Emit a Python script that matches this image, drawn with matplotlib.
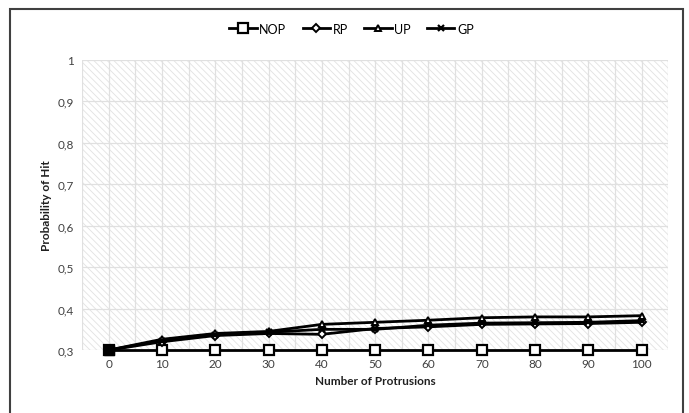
import numpy as np
import matplotlib
matplotlib.use("Agg")
import matplotlib.pyplot as plt
from matplotlib.patches import Rectangle
from matplotlib.ticker import FuncFormatter, MultipleLocator

plt.rcParams['font.family'] = ['Lato', 'DejaVu Sans']
plt.rcParams['hatch.linewidth'] = 0.6

# probability of hit vs number of protrusions
protrusions = [0, 10, 20, 30, 40, 50, 60, 70, 80, 90, 100]
nop = [0.300, 0.300, 0.300, 0.300, 0.300, 0.300, 0.300, 0.300, 0.300, 0.300, 0.300]
rp = [0.300, 0.320, 0.335, 0.340, 0.338, 0.352, 0.356, 0.362, 0.363, 0.364, 0.367]
up = [0.300, 0.326, 0.340, 0.345, 0.362, 0.367, 0.372, 0.378, 0.380, 0.380, 0.383]
gp = [0.300, 0.323, 0.337, 0.343, 0.350, 0.350, 0.360, 0.365, 0.366, 0.367, 0.371]
y_ticks = [0.3, 0.4, 0.5, 0.6, 0.7, 0.8, 0.9, 1.0]

fig = plt.figure(figsize=(6.89, 4.14), dpi=100)
ax = fig.add_axes([0.119, 0.152, 0.851, 0.701])

# outer chart frame
fig.patches.append(Rectangle((0.015, -0.01), 0.976, 0.985, transform=fig.transFigure,
                             fill=False, edgecolor='#404040', linewidth=1.5))

# hatched plot area
ax.add_patch(Rectangle((0, 0), 1, 1, transform=ax.transAxes, facecolor='white',
                       edgecolor='#e2e2e2', linewidth=0, hatch='\\\\\\\\\\', zorder=0))

ax.set_xlim(-5, 105)
ax.set_ylim(0.3, 1.0)
ax.set_xticks(protrusions)
ax.xaxis.set_minor_locator(MultipleLocator(5))
ax.set_yticks(y_ticks)
ax.yaxis.set_major_formatter(FuncFormatter(
    lambda v, p: '1' if abs(v - 1) < 1e-9 else ('%.1f' % v).replace('.', ',')))
ax.grid(True, which='both', axis='x', color='#e0e0e0', linewidth=0.9, zorder=1)
ax.grid(True, which='major', axis='y', color='#e0e0e0', linewidth=0.9, zorder=1)
ax.tick_params(which='both', length=0, labelsize=8.5, labelcolor='#404040', pad=6)
for s in ax.spines.values():
    s.set_visible(False)

common = dict(color='black', linewidth=2, zorder=3, clip_on=False)
ax.plot(protrusions, nop, marker='s', markersize=7, markerfacecolor='white',
        markeredgewidth=1.6, label='NOP', **common)
ax.plot(protrusions, rp, marker='D', markersize=4.5, markerfacecolor='white',
        markeredgewidth=1.4, label='RP', **common)
ax.plot(protrusions, up, marker='^', markersize=5, markerfacecolor='white',
        markeredgewidth=1.4, label='UP', **common)
ax.plot(protrusions, gp, marker='x', markersize=5, markeredgewidth=1.6,
        label='GP', **common)
ax.plot([0], [0.3], marker='s', markersize=7, color='black', zorder=5, clip_on=False)

ax.set_xlabel('Number of Protrusions', fontsize=8.5, fontweight='bold', color='#202020')
ax.set_ylabel('Probability of Hit', fontsize=8.5, fontweight='bold', color='#202020')

fig.legend(loc='center', bbox_to_anchor=(0.51, 0.928), ncol=4, frameon=False,
           fontsize=9, handlelength=2.2, columnspacing=1.3, handletextpad=0.2)

fig.savefig('out.png', dpi=100)
